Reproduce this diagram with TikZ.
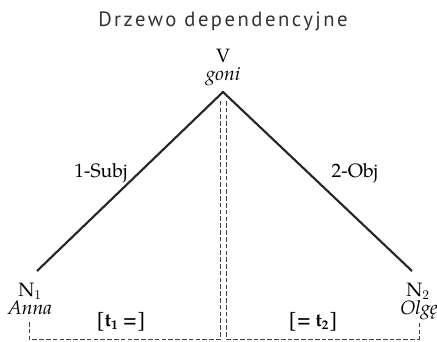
\documentclass[tikz,border=0pt]{standalone}
\usepackage{fontspec}
\setmainfont{TeX Gyre Pagella}
\newfontfamily\titlefont[LetterSpace=12]{PT Sans}
\usepackage{tikz}
\usetikzlibrary{positioning}

\begin{document}
\begin{tikzpicture}[x=0.75pt, y=-0.75pt,
    deparc/.style={line width=1.6pt, black!85},
    trace/.style={line width=0.6pt, black!75, dash pattern=on 3.5pt off 1.6pt},
    word/.style={font=\fontsize{14.5}{16}\selectfont, inner sep=0pt, anchor=base},
    gloss/.style={word, font=\fontsize{14.5}{16}\selectfont\itshape},
    slot/.style={word, font=\fontsize{14}{16}\selectfont\bfseries}]
\useasboundingbox (0,0) rectangle (437,342);

% Title
\node[font=\fontsize{15.5}{18}\titlefont, black!80, inner sep=0pt, anchor=base] (title) at (223,27) {Drzewo dependencyjne};

% Words
\node[word] (v) at (223,63) {V};
\node[gloss] (goni) at (223,81) {goni};
\node[word] (n1) at (30,297) {N$_1$};
\node[gloss] (anna) at (30,315) {Anna};
\node[word] (n2) at (418,297) {N$_2$};
\node[gloss] (olge) at (419,315) {Olgę};

% Arcs
\coordinate (top) at (223,92);
\coordinate (subjend) at (37,271);
\coordinate (objend) at (412,271);
\draw[deparc] (subjend) -- (top) -- (objend);
\node[word] (subj) at (101,178) {1-Subj};
\node[word] (obj) at (355,178) {2-Obj};

% Traces
\coordinate (lstart) at (29,322);
\coordinate (rstart) at (419,322);
\draw[trace] (lstart) -- (29,339) -- (220.5,339) -- (220.5,101);
\draw[trace] (226.5,101) -- (226.5,339) -- (rstart |- 0,339) -- (rstart);
\node[slot] (t1) at (121,327) {[t$_\mathbf{1}$ =]};
\node[slot] (t2) at (313,327) {[= t$_\mathbf{2}$]};

\end{tikzpicture}
\end{document}
